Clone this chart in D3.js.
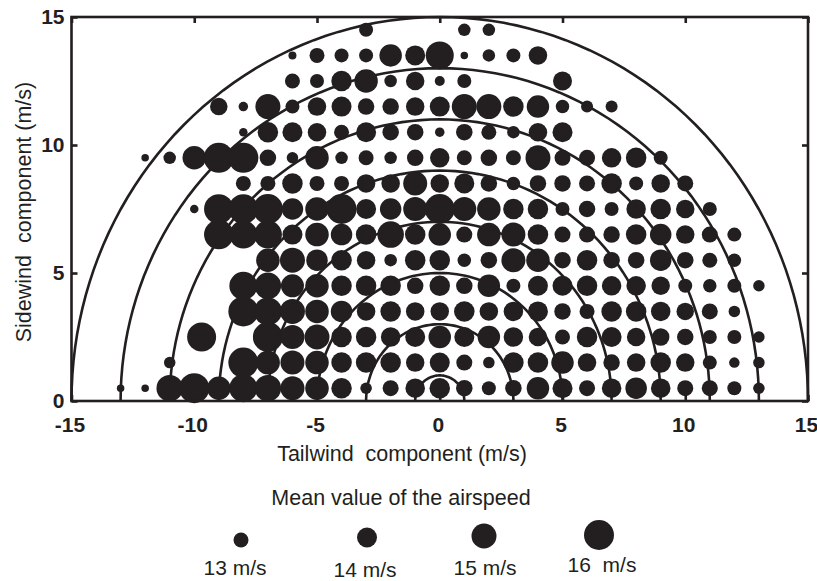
<!DOCTYPE html>
<html><head><meta charset="utf-8">
<script src="https://cdn.jsdelivr.net/npm/d3@7/dist/d3.min.js"></script>
<style>
body{margin:0;background:#fff;}
svg{display:block;font-family:"Liberation Sans",Arial,sans-serif;}
</style></head>
<body>
<svg id="chart" width="817" height="581"></svg>
<script>
// Tailwind component columns (m/s)
const tailwind = [-13,-12,-11,-10,-9,-8,-7,-6,-5,-4,-3,-2,-1,0,1,2,3,4,5,6,7,8,9,10,11,12,13];
// Sidewind component rows (m/s)
const sidewind = [0.5,1.5,2.5,3.5,4.5,5.5,6.5,7.5,8.5,9.5,10.5,11.5,12.5,13.5,14.5];
const _ = null;
// Mean airspeed (m/s) per row, one value per tailwind column
const row0_5  = [11.5,11.5,15.3,16.0,14.7,15.6,15.3,14.8,14.7,14.1,12.3,13.2,13.9,14.1,13.3,12.8,13.3,14.5,14.0,13.2,13.9,14.3,13.9,13.2,13.2,12.8,12.3];
const row1_5  = [_,_,12.3,_,_,16.0,14.8,14.8,14.7,14.1,14.1,14.1,13.7,14.0,13.2,12.3,14.1,14.1,14.5,13.7,13.3,13.7,14.1,13.7,12.8,12.1,12.3];
const row2_5  = [_,_,_,_,_,_,16.0,14.8,15.0,14.1,14.1,13.9,14.0,14.5,14.0,14.5,13.9,13.7,13.0,14.1,14.0,13.7,13.5,13.3,12.8,12.8,12.3];
const row3_5  = [_,_,_,_,_,16.0,15.6,15.0,14.7,14.3,13.7,14.1,13.7,13.7,14.1,13.7,13.9,14.0,13.3,13.0,14.1,14.1,13.9,13.5,13.2,12.3,_];
const row4_5  = [_,_,_,_,_,15.6,15.3,14.6,14.7,14.1,14.1,14.1,13.3,14.1,13.3,14.5,12.8,14.0,14.0,14.1,13.9,13.9,13.7,12.8,12.7,12.8,12.3];
const row5_5  = [_,_,_,_,_,_,14.7,15.0,14.3,14.1,13.7,12.5,14.1,14.1,12.7,13.3,14.8,14.7,13.3,14.1,13.3,13.3,14.3,13.3,13.0,12.7,_];
const row6_5  = [_,_,_,_,15.9,15.6,15.6,14.0,14.7,14.3,14.1,15.3,14.1,14.5,13.2,14.7,14.8,14.1,13.2,13.2,13.3,14.1,14.3,13.7,13.2,12.8,_];
const row7_5  = [_,_,_,11.7,15.9,15.9,16.0,14.3,14.7,16.0,14.0,14.3,14.8,16.0,14.8,14.7,14.1,14.1,12.8,13.3,12.8,13.9,14.1,13.7,12.8,_,_];
const row8_5  = [_,_,_,_,_,13.0,13.0,14.1,13.0,13.0,13.7,13.7,14.8,13.7,14.0,13.3,12.7,13.3,13.3,13.2,14.1,12.8,13.7,13.2,_,_,_];
const row9_5  = [_,11.5,12.5,14.7,16.0,16.0,13.3,12.3,14.7,12.5,13.0,12.5,13.3,13.9,13.0,13.3,13.0,15.0,13.2,13.2,13.9,14.1,12.8,_,_,_,_];
const row10_5 = [_,_,_,_,_,11.7,14.1,14.0,13.7,13.0,14.0,13.3,13.3,11.9,13.3,13.0,12.5,13.7,14.0,_,_,_,_,_,_,_,_];
const row11_5 = [_,_,_,_,13.5,11.9,15.0,12.8,13.7,14.0,13.3,13.3,13.7,14.0,15.0,15.0,14.1,14.5,12.7,12.4,12.4,_,_,_,_,_,_];
const row12_5 = [_,_,_,_,_,_,_,13.0,12.8,14.1,14.7,12.5,13.7,12.0,12.8,_,_,_,13.8,_,_,_,_,_,_,_,_];
const row13_5 = [_,_,_,_,_,_,_,11.6,13.0,12.8,12.8,14.5,14.0,15.6,11.5,12.5,12.8,13.7,_,_,_,_,_,_,_,_,_];
const row14_5 = [_,_,_,_,_,_,_,_,_,_,12.8,_,_,_,12.5,12.5,_,_,_,_,_,_,_,_,_,_,_];
// one cell that sits off the regular grid
const extraTailwind = [-9.7];
const extraSidewind = [2.5];
const extraAirspeed = [15.8];

const circleRadii = [1,3,5,7,9,11,13,15];
const xTicks = [-15,-10,-5,0,5,10,15];
const yTicks = [0,5,10,15];
const legendSpeeds = [13,14,15,16];
const legendLabels = ["13 m/s","14 m/s","15 m/s","16  m/s"];

const rows = [row0_5,row1_5,row2_5,row3_5,row4_5,row5_5,row6_5,row7_5,row8_5,row9_5,row10_5,row11_5,row12_5,row13_5,row14_5];
const points = [];
rows.forEach((r,i)=>r.forEach((v,j)=>{ if(v!==null) points.push({x:tailwind[j],y:sidewind[i],v}); }));
extraTailwind.forEach((x,i)=>points.push({x,y:extraSidewind[i],v:extraAirspeed[i]}));

const ink = "#231f20";
const svg = d3.select("#chart");
const x = d3.scaleLinear().domain([-15,15]).range([71.5,808]);
const y = d3.scaleLinear().domain([0,15]).range([401,17]);
const r = d3.scaleLinear().domain([13,16]).range([7.5,15]);

// dots
svg.append("g").selectAll("circle").data(points).join("circle")
  .attr("cx",d=>x(d.x)).attr("cy",d=>y(d.y)).attr("r",d=>Math.max(1,r(d.v))).attr("fill",ink);

// semicircles
const angles = d3.range(0,181,2).map(a=>a*Math.PI/180);
const arcLine = d3.line().x(d=>x(d[0])).y(d=>y(d[1]));
svg.append("g").selectAll("path").data(circleRadii).join("path")
  .attr("d",R=>arcLine(angles.map(t=>[R*Math.cos(t),R*Math.sin(t)])))
  .attr("fill","none").attr("stroke",ink).attr("stroke-width",2.6);

// frame
svg.append("rect").attr("x",x(-15)).attr("y",y(15)).attr("width",x(15)-x(-15)).attr("height",y(0)-y(15))
  .attr("fill","none").attr("stroke",ink).attr("stroke-width",2.6);

// axes with inward ticks
const tl = 6;
const fmt = d=>String(d);
const axB = svg.append("g").attr("transform",`translate(0,${y(0)})`)
  .call(d3.axisBottom(x).tickValues(xTicks).tickSizeInner(-tl).tickSizeOuter(0).tickFormat(fmt));
const axT = svg.append("g").attr("transform",`translate(0,${y(15)})`)
  .call(d3.axisTop(x).tickValues(xTicks).tickSizeInner(-tl).tickSizeOuter(0).tickFormat(""));
const axL = svg.append("g").attr("transform",`translate(${x(-15)},0)`)
  .call(d3.axisLeft(y).tickValues(yTicks).tickSizeInner(-tl).tickSizeOuter(0).tickFormat(fmt));
const axR = svg.append("g").attr("transform",`translate(${x(15)},0)`)
  .call(d3.axisRight(y).tickValues(yTicks).tickSizeInner(-tl).tickSizeOuter(0).tickFormat(""));
[axB,axT,axL,axR].forEach(g=>{
  g.select(".domain").remove();
  g.selectAll(".tick line").attr("stroke",ink).attr("stroke-width",2.6);
  g.selectAll("text").attr("fill",ink).attr("font-size",21).attr("font-weight","bold")
   .attr("font-family","Liberation Sans, Arial, sans-serif");
});
axB.selectAll("text").attr("dy",null).attr("y",31).attr("x",-2);
axL.selectAll("text").attr("dy","0.32em").attr("x",-7).attr("y",0);

// titles
svg.append("text").attr("x",402).attr("y",461).attr("text-anchor","middle")
  .attr("font-size",21.5).attr("fill",ink).attr("xml:space","preserve").text("Tailwind  component (m/s)");
svg.append("text").attr("transform","translate(31,212) rotate(-90)").attr("text-anchor","middle")
  .attr("font-size",21.5).attr("fill",ink).attr("xml:space","preserve").text("Sidewind  component (m/s)");
svg.append("text").attr("x",401).attr("y",505).attr("text-anchor","middle")
  .attr("font-size",21.5).attr("fill",ink).text("Mean value of the airspeed");

// legend
const legX = [241,367,484,599];
const legY = [540,537.5,536,535];
const labX = [235,365,485,602];
const labY = [575,577,574.5,572];
const lg = svg.append("g");
lg.selectAll("circle").data(legendSpeeds).join("circle")
  .attr("cx",(d,i)=>legX[i]).attr("cy",(d,i)=>legY[i]).attr("r",d=>r(d)).attr("fill",ink);
lg.selectAll("text").data(legendLabels).join("text")
  .attr("x",(d,i)=>labX[i]).attr("y",(d,i)=>labY[i]).attr("text-anchor","middle")
  .attr("font-size",21).attr("fill",ink).attr("xml:space","preserve").text(d=>d);
</script>
</body></html>
